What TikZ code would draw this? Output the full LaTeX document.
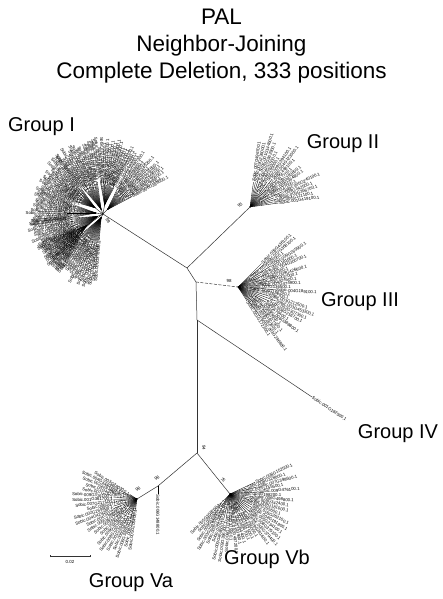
\documentclass[tikz,border=0pt]{standalone}
\usepackage{fontspec}
\setmainfont{Liberation Sans}
\tikzset{
  branch/.style={draw=black!80, line width=0.5pt},
  leafbranch/.style={draw=black, line width=0.35pt},
  dashbranch/.style={branch, dash pattern=on 3pt off 1.5pt},
  leaflab/.style={font=\fontsize{4.3}{4.3}\selectfont, inner sep=0.5pt, text=black},
  boot/.style={font=\fontsize{4.4}{4.4}\selectfont, inner sep=0pt, text=black},
  titletext/.style={font=\fontsize{22.5}{24}\selectfont, anchor=base},
  grouptext/.style={font=\fontsize{20}{22}\selectfont, anchor=base},
}
% a fan of leaves hanging from one hub:
% #1 hub, #2 first angle, #3 last angle, #4 number of leaves, #5 shortest branch, #6 longest branch
\newcommand\fanout[6]{%
  \foreach \k in {1,...,#4}{%
    \pgfmathsetmacro\ang{#2+(#3-#2)*(\k-1)/(#4-1)}%
    \pgfmathsetmacro\len{#5+rnd*(#6-#5)}%
    \pgfmathsetmacro\cosang{cos(\ang)}%
    \ifdim\cosang pt<0pt
      \pgfmathsetmacro\rot{\ang+180}\def\anc{east}%
    \else
      \pgfmathsetmacro\rot{\ang}\def\anc{west}%
    \fi
    \pgfmathrandominteger{\chrno}{1}{9}%
    \pgfmathrandominteger{\geneid}{1000}{4999}%
    \draw[leafbranch] (#1) -- ++(\ang:\len)
      node[leaflab, anchor=\anc, rotate=\rot] {Sobic.00\chrno G\geneid00.1};%
  }%
}
% a sub-clade: hub placed at distance #3 in direction #2 from node #1
\newcommand\subclade[8]{%
  \path (#1) ++(#2:#3) coordinate (#4);
  \draw[leafbranch] (#1) -- (#4);
  \fanout{#4}{#5}{#6}{#7}{#8}{#8+12}%
}
\begin{document}
\begin{tikzpicture}[x=1pt, y=1pt]
\pgfmathsetseed{4711}
\useasboundingbox (0,0) rectangle (443,599);
\fill[white] (0,0) rectangle (443,599);

% titles
\node[titletext] (t1) at (221.5,574) {PAL};
\node[titletext] (t2) at (221.5,547) {Neighbor-Joining};
\node[titletext] (t3) at (221.5,520) {Complete Deletion, 333 positions};

% backbone nodes
\coordinate (g1) at (103,385);
\coordinate (na) at (187,331);
\coordinate (g2) at (250,392);
\coordinate (nb) at (196,317);
\coordinate (g3) at (238,312);
\coordinate (nc) at (197,279);
\coordinate (g4) at (312,202);
\coordinate (nd) at (197,146);
\coordinate (vas) at (158,113);
\coordinate (va) at (137,100);
\coordinate (vb) at (230,105);

% backbone branches
\draw[branch] (g1) -- (na);
\draw[branch] (na) -- (g2);
\draw[branch] (na) -- (nb);
\draw[dashbranch] (nb) -- (g3);
\draw[branch] (nb) -- (nc);
\draw[branch] (nc) -- (g4);
\draw[branch] (nc) -- (nd);
\draw[branch] (nd) -- (vas);
\draw[branch] (vas) -- (va);
\draw[branch] (nd) -- (vb);

% Group I
\subclade{g1}{45}{6}{g1a}{28}{64}{13}{18}
\subclade{g1}{80}{9}{g1b}{62}{100}{16}{16}
\subclade{g1}{112}{5}{g1c}{98}{130}{15}{20}
\subclade{g1}{142}{10}{g1d}{126}{164}{16}{14}
\subclade{g1}{172}{7}{g1e}{160}{190}{13}{18}
\subclade{g1}{203}{6}{g1f}{184}{224}{17}{18}
\subclade{g1}{243}{4}{g1g}{220}{265}{20}{20}
\subclade{g1}{215}{20}{g1h}{200}{240}{12}{4}
\node[boot, rotate=-60] (b1) at (108,378) {99};

% Group II
\fanout{g2}{82}{8}{18}{10}{36}
\node[boot, rotate=45] (b2) at (240,394) {93};

% Group III
\fanout{g3}{45}{-57}{26}{8}{42}
\node[boot] (b3) at (229,318) {98};

% Group IV
\node[leaflab, anchor=west, rotate=-33.8] (l4) at (g4) {Sobic.001G182500.1};

% Group Va
\fanout{va}{148}{262}{22}{8}{26}
\draw[leafbranch] (vas) -- ++(0,-8) coordinate (vat)
  node[leaflab, anchor=west, rotate=-90] (l5) {Sobic.006G148800.1};
\node[boot, rotate=35] (b5) at (157,121) {96};
\node[boot, rotate=35] (b6) at (138,110) {96};

% Group Vb
\fanout{vb}{25}{-135}{32}{6}{30}
\node[boot, rotate=-90] (b7) at (204,151) {94};
\node[boot, rotate=-50] (b8) at (223,119) {75};

% group names
\node[grouptext] (gI) at (41.5,467) {Group I};
\node[grouptext] (gII) at (343,450) {Group II};
\node[grouptext] (gIII) at (360,292) {Group III};
\node[grouptext] (gIV) at (398,160) {Group IV};
\node[grouptext] (gVa) at (131,12) {Group Va};
\node[grouptext] (gVb) at (267,34) {Group Vb};

% scale bar
\coordinate (s1) at (50,43);
\coordinate (s2) at (90,43);
\draw[branch] (s1) -- (s2);
\draw[branch] (s1) ++(0,-1.2) -- ++(0,2.4);
\draw[branch] (s2) ++(0,-1.2) -- ++(0,2.4);
\node[boot] (sl) at (70,37) {0.02};
\end{tikzpicture}
\end{document}
